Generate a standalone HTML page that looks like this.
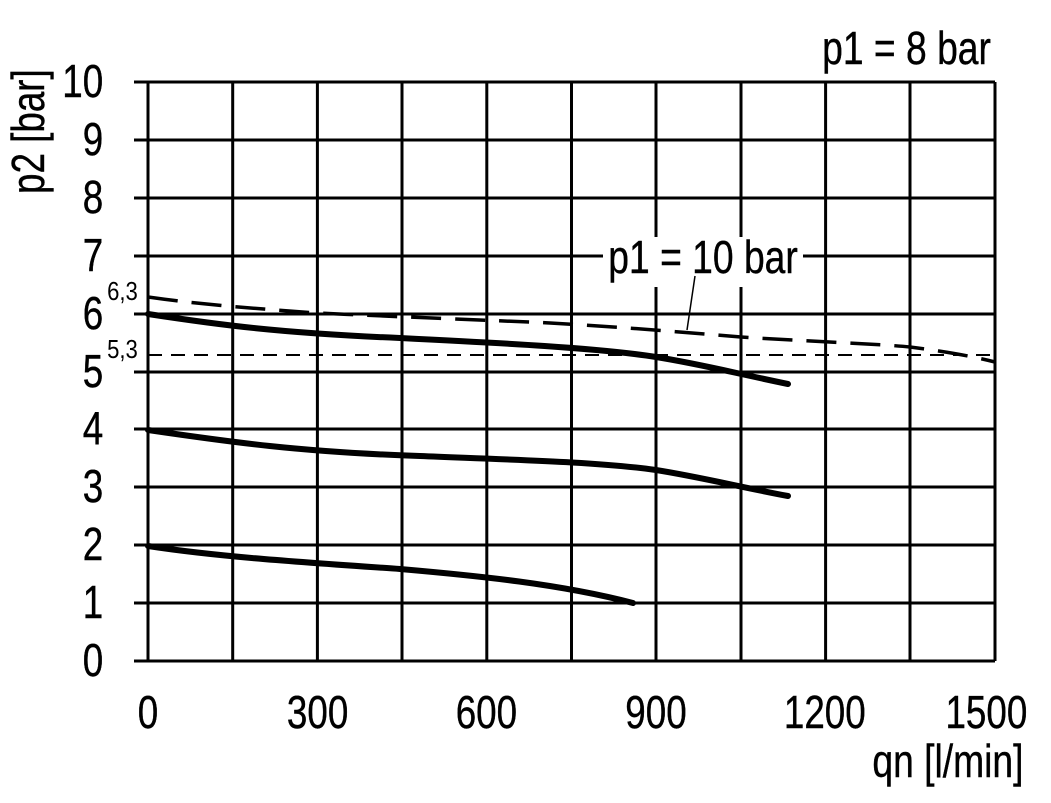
<!DOCTYPE html><html><head><style>body{margin:0;background:#fff}svg{display:block}text{font-family:"Liberation Sans",sans-serif;fill:#000}</style></head><body>
<svg width="1051" height="803" viewBox="0 0 1051 803">
<g stroke="#000" stroke-width="3" fill="none">
<path d="M148 82V661M232.7 82V661M317.4 82V661M402 82V661M486.8 82V661M571.5 82V661M656 82V661M741 82V661M825.6 82V661M910 82V661M995 82V661"/>
<path d="M134 82H995M134 140H995M134 198H995M134 256H995M134 314H995M134 372H995M134 429H995M134 487H995M134 545H995M134 603H995M134 661H995"/>
</g>
<rect x="603" y="237" width="200" height="50" fill="#fff"/>
<g fill="none" stroke="#000">
<path d="M148 355H995" stroke-width="2" stroke-dasharray="14,9"/>
<path d="M148 297 C190 303 232 307 317 313 C400 317 486 320 550 323 C620 327 656 330 741 337 C820 342 880 344 910 347 C950 352 975 357 995 362" stroke-width="3.5" stroke-dasharray="30,14"/>
<path d="M695 276 L687 330" stroke-width="1.5"/>
<g stroke-width="6" stroke-linecap="round">
<path d="M148 314 C220 325 280 333 400 338 C500 343 600 348 656 357 C700 364 730 372 788 384"/>
<path d="M148 430 C230 442 300 452 420 456 C520 460 600 462 656 470 C700 477 740 487 788 496"/>
<path d="M148 546 C220 557 300 562 400 569 C480 576 560 584 633 603"/>
</g></g>
<g font-size="46" text-anchor="end" transform="scale(0.8,1)" stroke="#000" stroke-width="0.4">
<text x="129" y="97">10</text><text x="129" y="155">9</text><text x="129" y="213">8</text><text x="129" y="271">7</text><text x="129" y="329">6</text><text x="129" y="387">5</text><text x="129" y="444">4</text><text x="129" y="502">3</text><text x="129" y="560">2</text><text x="129" y="618">1</text><text x="129" y="676">0</text>
</g>
<g font-size="26" transform="scale(0.85,1)"><text x="126" y="300">6,3</text><text x="126" y="358">5,3</text></g>
<g font-size="46" text-anchor="middle" transform="scale(0.8,1)" stroke="#000" stroke-width="0.4">
<text x="185" y="728">0</text><text x="397" y="728">300</text><text x="608" y="728">600</text><text x="820" y="728">900</text><text x="1031" y="728">1200</text><text x="1233" y="728">1500</text>
</g>
<g font-size="46" transform="scale(0.81,1)" stroke="#000" stroke-width="0.4">
<text x="1077" y="777">qn [l/min]</text>
<text x="1015" y="64">p1 = 8 bar</text>
<text x="751" y="273">p1 = 10 bar</text>
</g>
<text font-size="46" stroke="#000" stroke-width="0.4" transform="translate(44,194) rotate(-90) scale(0.8,1)">p2 [bar]</text>
</svg></body></html>
